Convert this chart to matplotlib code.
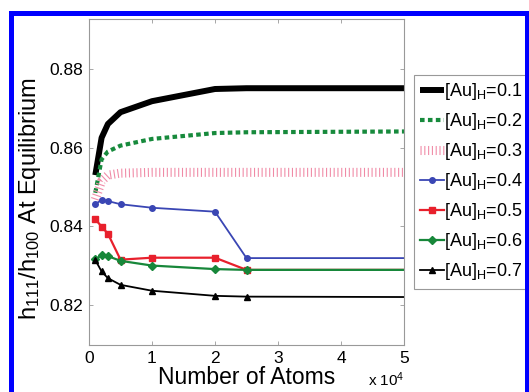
import matplotlib
matplotlib.use("Agg")
import matplotlib.pyplot as plt
from matplotlib.patches import Rectangle
from matplotlib.ticker import FuncFormatter

plt.rcParams["font.family"] = ["Liberation Sans", "DejaVu Sans"]
plt.rcParams["mathtext.fontset"] = "custom"
plt.rcParams["mathtext.rm"] = "Liberation Sans"
plt.rcParams["mathtext.it"] = "Liberation Sans"

# Anzahl Atome und Gleichgewichtsverhaeltnis h111/h100
atoms = [1000, 2000, 3000, 5000, 10000, 20000, 25000, 50000]
au_01 = [0.8530, 0.8625, 0.8660, 0.8690, 0.8718, 0.8749, 0.8751, 0.8751]
au_02 = [0.8485, 0.8570, 0.8590, 0.8605, 0.8622, 0.8637, 0.8639, 0.8641]
au_03 = [0.8468, 0.8515, 0.8530, 0.8535, 0.8537, 0.8537, 0.8537, 0.8537]
au_04 = [0.8456, 0.8467, 0.8464, 0.8456, 0.8447, 0.8437, 0.8319, 0.8319]
au_05 = [0.8418, 0.8399, 0.8381, 0.8315, 0.8320, 0.8320, 0.8289, 0.8289]
au_06 = [0.8316, 0.8326, 0.8324, 0.8312, 0.8300, 0.8291, 0.8289, 0.8289]
au_07 = [0.8314, 0.8285, 0.8268, 0.8251, 0.8236, 0.8223, 0.8221, 0.8220]
labels = ["0.1", "0.2", "0.3", "0.4", "0.5", "0.6", "0.7"]

W, H = 529, 392
fig = plt.figure(figsize=(W / 100, H / 100), dpi=100)
ax = fig.add_axes([89 / W, 1 - 345 / H, (404 - 89) / W, (345 - 19) / H])

lab = [r"[Au]$_\mathrm{H}$=" + s for s in labels]
mk = list(range(len(atoms) - 1))

ax.plot(atoms, au_01, color="black", lw=4.3, solid_capstyle="butt", label=lab[0])
ax.plot(atoms, au_02, color="#178a3c", lw=3.0, linestyle=(0, (1.1, 0.8)),
        dash_capstyle="butt", label=lab[1])
ax.plot(atoms, au_03, color="#f08aa6", lw=6.5, linestyle=(0, (0.12, 0.3)),
        dash_capstyle="butt", label=lab[2])
ax.plot(atoms, au_04, color="#3a46b4", lw=1.3, marker="o", ms=4, markevery=mk, label=lab[3])
ax.plot(atoms, au_05, color="#e8202c", lw=1.6, marker="s", ms=5, markevery=mk, label=lab[4])
ax.plot(atoms, au_06, color="#17873a", lw=1.6, marker="D", ms=4, markevery=mk, label=lab[5])
ax.plot(atoms, au_07, color="black", lw=1.3, marker="^", ms=4, markevery=mk, label=lab[6])

ax.set_xlim(0, 50000)
ax.set_ylim(0.8098, 0.8927)
ax.set_xticks([0, 10000, 20000, 30000, 40000, 50000])
ax.set_yticks([0.82, 0.84, 0.86, 0.88])
ax.xaxis.set_major_formatter(FuncFormatter(lambda v, p: "%d" % round(v / 1e4)))
ax.yaxis.set_major_formatter(FuncFormatter(lambda v, p: "%.2f" % v))
ax.tick_params(direction="in", length=3, width=0.6, colors="#999999",
               labelcolor="black", labelsize=12.5, top=True, right=True, pad=4)
for sp in ax.spines.values():
    sp.set_color("#999999")
    sp.set_linewidth(0.8)

ax.set_xlabel("Number of Atoms", fontsize=16.5, labelpad=0)
ax.set_ylabel(r"h$_{111}$/h$_{100}$ At Equilibrium", fontsize=17)
ax.yaxis.set_label_coords(-0.145, 0.45)
ax.text(1.0, -0.126, r"x 10$^4$", transform=ax.transAxes, ha="right",
        va="baseline", fontsize=11)

leg = ax.legend(loc="upper left", bbox_to_anchor=(414 / W, 1 - 75 / H),
                bbox_transform=fig.transFigure, borderaxespad=0, fontsize=13,
                handlelength=1.3, handletextpad=0.0, labelspacing=0.5,
                borderpad=0.35, fancybox=False, framealpha=1)
leg.get_frame().set_edgecolor("#999999")
leg.get_frame().set_linewidth(0.8)

fig.add_artist(Rectangle((10.5 / W, -0.1), (527 - 10.5) / W, 1.1 - 12.5 / H,
                         transform=fig.transFigure, fill=False,
                         edgecolor="#0000ff", lw=3.6))

fig.savefig("out.png", dpi=100)
